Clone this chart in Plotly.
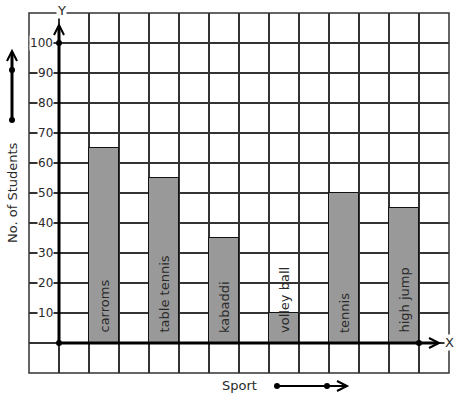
import plotly.graph_objects as go

sports = ["carroms", "table tennis", "kabaddi", "volley ball", "tennis", "high jump"]
students = [65, 55, 35, 10, 50, 45]
positions = [1.5, 3.5, 5.5, 7.5, 9.5, 11.5]
y_ticks = [10, 20, 30, 40, 50, 60, 70, 80, 90, 100]

W, H = 457, 399
L, R, T, B = 29, 8, 13, 26
pw, ph = W - L - R, H - T - B

def px(x):
    return (x - L) / pw

def py(y):
    return (H - B - y) / ph

fig = go.Figure()
fig.add_trace(go.Bar(
    x=positions, y=students, width=1,
    marker=dict(color="#999999", line=dict(color="#111111", width=1)),
    hoverinfo="skip", showlegend=False,
))

font = "DejaVu Sans"
ann = []
for xp, s in zip(positions, sports):
    ann.append(dict(x=xp, y=0, xref="x", yref="y", text=s, textangle=-90,
                    showarrow=False, xanchor="center", yanchor="bottom", yshift=8,
                    font=dict(family=font, size=13, color="#2a2a2a")))
for v in y_ticks:
    ann.append(dict(x=0, y=v, xref="x", yref="y", text=str(v), showarrow=False,
                    xanchor="right", yanchor="middle", xshift=-5,
                    bgcolor="white", borderpad=0,
                    font=dict(family=font, size=12, color="#2a2a2a")))
ann.append(dict(x=px(61), y=py(10), xref="paper", yref="paper", text="Y", showarrow=False,
                xanchor="center", yanchor="middle", bgcolor="white", borderpad=0,
                font=dict(family=font, size=13, color="#2a2a2a")))
ann.append(dict(x=px(449), y=py(342), xref="paper", yref="paper", text="X", showarrow=False,
                xanchor="center", yanchor="middle", bgcolor="white", borderpad=0,
                font=dict(family=font, size=13, color="#2a2a2a")))
ann.append(dict(x=px(12), y=py(193), xref="paper", yref="paper", text="No. of Students",
                textangle=-90, showarrow=False, xanchor="center", yanchor="middle",
                font=dict(family=font, size=13, color="#2a2a2a")))
ann.append(dict(x=px(239), y=py(385), xref="paper", yref="paper", text="Sport",
                showarrow=False, xanchor="center", yanchor="middle",
                font=dict(family=font, size=13, color="#2a2a2a")))

shapes = []
# border
shapes.append(dict(type="rect", xref="paper", yref="paper", x0=0, y0=0, x1=1, y1=1,
                   line=dict(color="#333333", width=1.5), layer="above"))
# axes
ax = dict(color="black", width=3)
shapes.append(dict(type="line", xref="paper", yref="paper", x0=px(59), y0=py(343), x1=px(59), y1=py(26), line=ax))
shapes.append(dict(type="line", xref="paper", yref="paper", x0=px(59), y0=py(343), x1=px(438), y1=py(343), line=ax))
def pth(pts):
    return "M " + " L ".join(f"{px(a)},{py(b)}" for a, b in pts)
arr = dict(color="black", width=2)
shapes.append(dict(type="path", xref="paper", yref="paper", path=pth([(54, 35), (59, 25), (64, 35)]), line=arr))
shapes.append(dict(type="path", xref="paper", yref="paper", path=pth([(429, 338), (439, 343), (429, 348)]), line=arr))
# left decorative arrow
shapes.append(dict(type="line", xref="paper", yref="paper", x0=px(12), y0=py(120), x1=px(12), y1=py(52), line=ax))
shapes.append(dict(type="path", xref="paper", yref="paper", path=pth([(7, 61), (12, 51), (17, 61)]), line=arr))
# sport arrow
shapes.append(dict(type="line", xref="paper", yref="paper", x0=px(277), y0=py(386), x1=px(345), y1=py(386), line=dict(color="black", width=2)))
shapes.append(dict(type="path", xref="paper", yref="paper", path=pth([(337, 381), (347, 386), (337, 391)]), line=arr))
# dots
for cx, cy in [(59, 343), (59, 43), (419, 343), (12, 70), (12, 120), (277, 386), (327, 386)]:
    r = 3
    shapes.append(dict(type="circle", xref="paper", yref="paper",
                       x0=px(cx - r), x1=px(cx + r), y0=py(cy + r), y1=py(cy - r),
                       fillcolor="black", line=dict(color="black", width=0)))

fig.update_layout(
    width=W, height=H,
    margin=dict(l=L, r=R, t=T, b=B),
    paper_bgcolor="white", plot_bgcolor="white",
    xaxis=dict(range=[-1, 13], dtick=1, tick0=0, showgrid=True, gridcolor="#333333",
               gridwidth=1.5, showticklabels=False, zeroline=False, fixedrange=True),
    yaxis=dict(range=[-10, 110], dtick=10, tick0=0, showgrid=True, gridcolor="#333333",
               gridwidth=1.5, showticklabels=False, zeroline=False, fixedrange=True),
    annotations=ann, shapes=shapes, bargap=0,
)
fig.write_html("out.html")
